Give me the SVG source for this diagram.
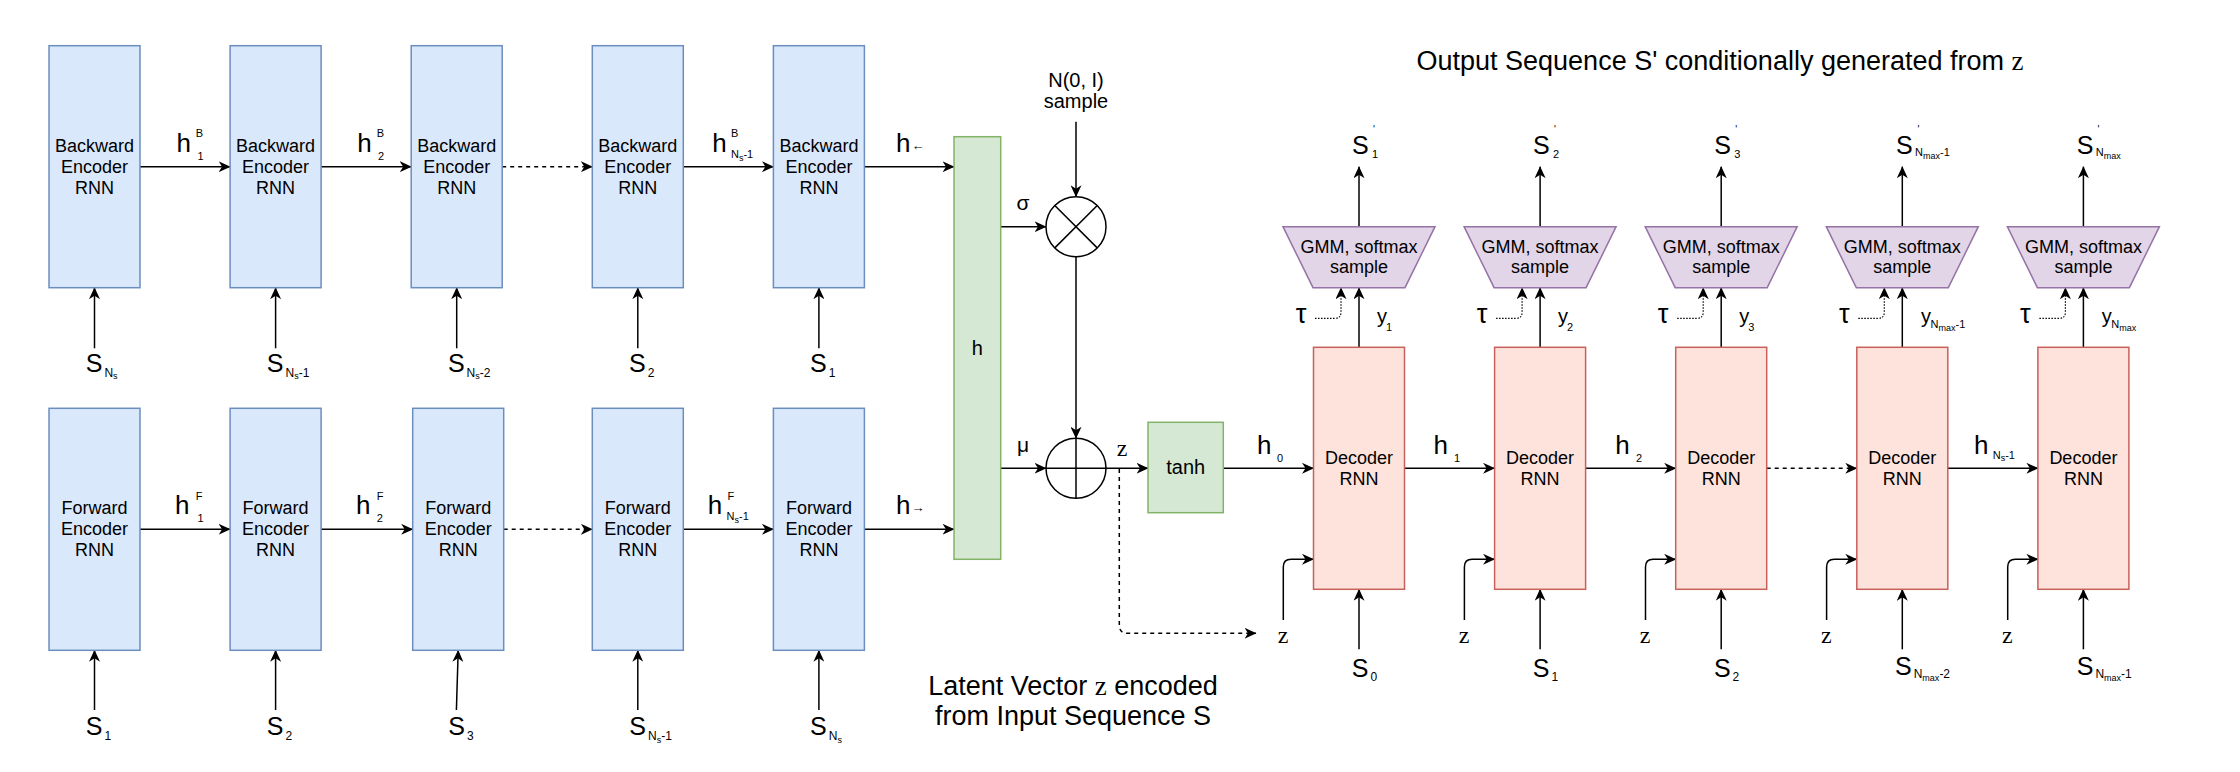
<svg xmlns="http://www.w3.org/2000/svg" width="2240" height="772" viewBox="0 0 2240 772">
  <style>
    text { font-family: "Liberation Sans", Arial, sans-serif; fill: #000; }
    .serif { font-family: "Liberation Serif", "Times New Roman", serif; }
    .enc { fill: #dae8fc; stroke: #6c8ebf; stroke-width: 1.5; }
    .grn { fill: #d5e8d4; stroke: #82b366; stroke-width: 1.5; }
    .dec { fill: #fde3db; stroke: #c8605c; stroke-width: 1.5; }
    .gmm { fill: #e1d5e7; stroke: #9673a6; stroke-width: 1.5; }
    .box { font-size: 18px; text-anchor: middle; }
    .h { font-size: 26px; }
    .sc { font-size: 11px; }
    .s { font-size: 25px; }
    .sb { font-size: 12px; }
    .ss { font-size: 9px; }
    .z { font-size: 24px; text-anchor: middle; }
    .big { font-size: 27px; text-anchor: middle; }
    .tau { font-size: 27px; text-anchor: middle; }
    .ln { fill: none; stroke: #000; stroke-width: 1.5; marker-end: url(#arr); }
    .dash { stroke-dasharray: 4 4; }
    .dot { fill: none; stroke: #000; stroke-width: 1.2; stroke-dasharray: 1.5 1.5; marker-end: url(#arr); }
    .op { fill: #fff; stroke: #000; stroke-width: 1.5; }
    .opl { stroke: #000; stroke-width: 1.5; }
  </style>
  <defs>
    <marker id="arr" viewBox="0 0 12 11" refX="11.5" refY="5.5" markerWidth="12" markerHeight="11" markerUnits="userSpaceOnUse" orient="auto">
      <path d="M0,0 L12,5.5 L0,11 L3.5,5.5 Z" fill="#000"/>
    </marker>
  </defs>

  <!-- Titles -->
  <text class="big" x="1720" y="70">Output Sequence S' conditionally generated from <tspan class="serif">z</tspan></text>
  <text class="big" x="1073" y="695">Latent Vector <tspan class="serif">z</tspan> encoded</text>
  <text class="big" x="1073" y="725">from Input Sequence S</text>

  <!-- Connectors -->
  <g id="connectors">
    <!-- backward encoder chain -->
    <line class="ln" x1="140" y1="166.7" x2="230.1" y2="166.7"/>
    <line class="ln" x1="321.1" y1="166.7" x2="411.2" y2="166.7"/>
    <line class="ln dash" x1="502.2" y1="166.7" x2="592.3" y2="166.7"/>
    <line class="ln" x1="683.3" y1="166.7" x2="773.4" y2="166.7"/>
    <line class="ln" x1="864.4" y1="166.7" x2="954" y2="166.7"/>
    <!-- forward encoder chain -->
    <line class="ln" x1="140" y1="529.3" x2="230.1" y2="529.3"/>
    <line class="ln" x1="321.1" y1="529.3" x2="412.7" y2="529.3"/>
    <line class="ln dash" x1="503.7" y1="529.3" x2="592.3" y2="529.3"/>
    <line class="ln" x1="683.3" y1="529.3" x2="773.4" y2="529.3"/>
    <line class="ln" x1="864.4" y1="529.3" x2="954" y2="529.3"/>
    <!-- encoder inputs -->
    <line class="ln" x1="94.5" y1="348.3" x2="94.5" y2="287.7"/>
    <line class="ln" x1="275.6" y1="348.3" x2="275.6" y2="287.7"/>
    <line class="ln" x1="456.7" y1="348.3" x2="456.7" y2="287.7"/>
    <line class="ln" x1="637.8" y1="348.3" x2="637.8" y2="287.7"/>
    <line class="ln" x1="818.9" y1="348.3" x2="818.9" y2="287.7"/>
    <line class="ln" x1="94.5" y1="710" x2="94.5" y2="650.3"/>
    <line class="ln" x1="275.6" y1="710" x2="275.6" y2="650.3"/>
    <line class="ln" x1="456.4" y1="710" x2="458.2" y2="650.3"/>
    <line class="ln" x1="637.8" y1="710" x2="637.8" y2="650.3"/>
    <line class="ln" x1="818.9" y1="710" x2="818.9" y2="650.3"/>
    <!-- latent sampling -->
    <line class="ln" x1="1000.7" y1="226.7" x2="1046" y2="226.7"/>
    <line class="ln" x1="1000.7" y1="468.3" x2="1046" y2="468.3"/>
    <line class="ln" x1="1076" y1="121.7" x2="1076" y2="196.7"/>
    <line class="ln" x1="1076" y1="256.7" x2="1076" y2="438.3"/>
    <line class="ln" x1="1106" y1="468.3" x2="1148" y2="468.3"/>
    <line class="ln" x1="1223.3" y1="468.3" x2="1313.5" y2="468.3"/>
    <path class="ln dash" stroke-width="1.2" d="M1119.3,469 L1119.3,625 Q1119.3,633.3 1127.6,633.3 L1256,633.3"/>
    <!-- decoder chain -->
    <line class="ln" x1="1404.5" y1="468.3" x2="1494.6" y2="468.3"/>
    <line class="ln" x1="1585.6" y1="468.3" x2="1675.7" y2="468.3"/>
    <line class="ln dash" x1="1766.7" y1="468.3" x2="1856.8" y2="468.3"/>
    <line class="ln" x1="1947.8" y1="468.3" x2="2037.9" y2="468.3"/>
    <!-- decoder step 1 -->
    <line class="ln" x1="1359" y1="649.3" x2="1359" y2="589.3"/>
    <line class="ln" x1="1359" y1="347.3" x2="1359" y2="287.7"/>
    <line class="ln" x1="1359" y1="226.7" x2="1359" y2="166.7"/>
    <path class="dot" d="M1315,318.3 L1335,318.3 Q1341,318.3 1341,312 L1341,287.7"/>
    <path class="ln" d="M1283.3,620 L1283.3,567 Q1283.3,559.3 1291,559.3 L1313.5,559.3"/>
    <!-- decoder step 2 -->
    <line class="ln" x1="1540.1" y1="649.3" x2="1540.1" y2="589.3"/>
    <line class="ln" x1="1540.1" y1="347.3" x2="1540.1" y2="287.7"/>
    <line class="ln" x1="1540.1" y1="226.7" x2="1540.1" y2="166.7"/>
    <path class="dot" d="M1496.1,318.3 L1516.1,318.3 Q1522.1,318.3 1522.1,312 L1522.1,287.7"/>
    <path class="ln" d="M1464.4,620 L1464.4,567 Q1464.4,559.3 1472.1,559.3 L1494.6,559.3"/>
    <!-- decoder step 3 -->
    <line class="ln" x1="1721.2" y1="649.3" x2="1721.2" y2="589.3"/>
    <line class="ln" x1="1721.2" y1="347.3" x2="1721.2" y2="287.7"/>
    <line class="ln" x1="1721.2" y1="226.7" x2="1721.2" y2="166.7"/>
    <path class="dot" d="M1677.2,318.3 L1697.2,318.3 Q1703.2,318.3 1703.2,312 L1703.2,287.7"/>
    <path class="ln" d="M1645.5,620 L1645.5,567 Q1645.5,559.3 1653.2,559.3 L1675.7,559.3"/>
    <!-- decoder step N-1 -->
    <line class="ln" x1="1902.3" y1="649.3" x2="1902.3" y2="589.3"/>
    <line class="ln" x1="1902.3" y1="347.3" x2="1902.3" y2="287.7"/>
    <line class="ln" x1="1902.3" y1="226.7" x2="1902.3" y2="166.7"/>
    <path class="dot" d="M1858.3,318.3 L1878.3,318.3 Q1884.3,318.3 1884.3,312 L1884.3,287.7"/>
    <path class="ln" d="M1826.6,620 L1826.6,567 Q1826.6,559.3 1834.3,559.3 L1856.8,559.3"/>
    <!-- decoder step N -->
    <line class="ln" x1="2083.4" y1="649.3" x2="2083.4" y2="589.3"/>
    <line class="ln" x1="2083.4" y1="347.3" x2="2083.4" y2="287.7"/>
    <line class="ln" x1="2083.4" y1="226.7" x2="2083.4" y2="166.7"/>
    <path class="dot" d="M2039.4,318.3 L2059.4,318.3 Q2065.4,318.3 2065.4,312 L2065.4,287.7"/>
    <path class="ln" d="M2007.7,620 L2007.7,567 Q2007.7,559.3 2015.4,559.3 L2037.9,559.3"/>
  </g>

  <!-- Backward encoder -->
  <g id="bwd1"><rect class="enc" x="49" y="45.7" width="91" height="242"/><text class="box" x="94.5" y="151.5">Backward</text><text class="box" x="94.5" y="172.8">Encoder</text><text class="box" x="94.5" y="193.8">RNN</text></g>
  <g id="bwd2"><rect class="enc" x="230.1" y="45.7" width="91" height="242"/><text class="box" x="275.6" y="151.5">Backward</text><text class="box" x="275.6" y="172.8">Encoder</text><text class="box" x="275.6" y="193.8">RNN</text></g>
  <g id="bwd3"><rect class="enc" x="411.2" y="45.7" width="91" height="242"/><text class="box" x="456.7" y="151.5">Backward</text><text class="box" x="456.7" y="172.8">Encoder</text><text class="box" x="456.7" y="193.8">RNN</text></g>
  <g id="bwd4"><rect class="enc" x="592.3" y="45.7" width="91" height="242"/><text class="box" x="637.8" y="151.5">Backward</text><text class="box" x="637.8" y="172.8">Encoder</text><text class="box" x="637.8" y="193.8">RNN</text></g>
  <g id="bwd5"><rect class="enc" x="773.4" y="45.7" width="91" height="242"/><text class="box" x="818.9" y="151.5">Backward</text><text class="box" x="818.9" y="172.8">Encoder</text><text class="box" x="818.9" y="193.8">RNN</text></g>

  <!-- Forward encoder -->
  <g id="fwd1"><rect class="enc" x="49" y="408.3" width="91" height="242"/><text class="box" x="94.5" y="514">Forward</text><text class="box" x="94.5" y="535.3">Encoder</text><text class="box" x="94.5" y="556.3">RNN</text></g>
  <g id="fwd2"><rect class="enc" x="230.1" y="408.3" width="91" height="242"/><text class="box" x="275.6" y="514">Forward</text><text class="box" x="275.6" y="535.3">Encoder</text><text class="box" x="275.6" y="556.3">RNN</text></g>
  <g id="fwd3"><rect class="enc" x="412.7" y="408.3" width="91" height="242"/><text class="box" x="458.2" y="514">Forward</text><text class="box" x="458.2" y="535.3">Encoder</text><text class="box" x="458.2" y="556.3">RNN</text></g>
  <g id="fwd4"><rect class="enc" x="592.3" y="408.3" width="91" height="242"/><text class="box" x="637.8" y="514">Forward</text><text class="box" x="637.8" y="535.3">Encoder</text><text class="box" x="637.8" y="556.3">RNN</text></g>
  <g id="fwd5"><rect class="enc" x="773.4" y="408.3" width="91" height="242"/><text class="box" x="818.9" y="514">Forward</text><text class="box" x="818.9" y="535.3">Encoder</text><text class="box" x="818.9" y="556.3">RNN</text></g>

  <!-- Encoder hidden state labels -->
  <g id="enc-labels">
    <text class="h" x="176.5" y="151.7">h</text><text class="sc" x="195.7" y="137.3">B</text><text class="sc" x="197.5" y="160">1</text>
    <text class="h" x="357.2" y="151.7">h</text><text class="sc" x="376.8" y="137.3">B</text><text class="sc" x="377.9" y="160">2</text>
    <text class="h" x="712.2" y="151.7">h</text><text class="sc" x="731.1" y="137.3">B</text><text class="sc" x="731" y="158">N<tspan class="ss" dy="2.5">s</tspan><tspan dy="-2.5">-1</tspan></text>
    <text class="h" x="896" y="151.7">h<tspan font-size="13" dx="1" dy="-2">←</tspan></text>
    <text class="h" x="175" y="514">h</text><text class="sc" x="195.7" y="500">F</text><text class="sc" x="197.5" y="521.7">1</text>
    <text class="h" x="356.1" y="514">h</text><text class="sc" x="376.8" y="500">F</text><text class="sc" x="376.8" y="521.7">2</text>
    <text class="h" x="707.8" y="514">h</text><text class="sc" x="727.5" y="500">F</text><text class="sc" x="726.6" y="520">N<tspan class="ss" dy="2.5">s</tspan><tspan dy="-2.5">-1</tspan></text>
    <text class="h" x="896" y="514">h<tspan font-size="13" dx="1" dy="-2">→</tspan></text>
  </g>

  <!-- Encoder input labels -->
  <g id="enc-inputs">
    <text class="s" x="85.7" y="371.5">S<tspan class="sb" dx="2" dy="5">N</tspan><tspan class="ss" dy="2.5">s</tspan></text>
    <text class="s" x="266.8" y="371.5">S<tspan class="sb" dx="2" dy="5">N</tspan><tspan class="ss" dy="2.5">s</tspan><tspan class="sb" dy="-2.5">-1</tspan></text>
    <text class="s" x="447.9" y="371.5">S<tspan class="sb" dx="2" dy="5">N</tspan><tspan class="ss" dy="2.5">s</tspan><tspan class="sb" dy="-2.5">-2</tspan></text>
    <text class="s" x="629" y="371.5">S<tspan class="sb" dx="2" dy="5">2</tspan></text>
    <text class="s" x="810.1" y="371.5">S<tspan class="sb" dx="2" dy="5">1</tspan></text>
    <text class="s" x="85.7" y="735">S<tspan class="sb" dx="2" dy="5">1</tspan></text>
    <text class="s" x="266.8" y="735">S<tspan class="sb" dx="2" dy="5">2</tspan></text>
    <text class="s" x="448.2" y="735">S<tspan class="sb" dx="2" dy="5">3</tspan></text>
    <text class="s" x="629.3" y="735">S<tspan class="sb" dx="2" dy="5">N</tspan><tspan class="ss" dy="2.5">s</tspan><tspan class="sb" dy="-2.5">-1</tspan></text>
    <text class="s" x="810.1" y="735">S<tspan class="sb" dx="2" dy="5">N</tspan><tspan class="ss" dy="2.5">s</tspan></text>
  </g>

  <!-- Concatenated hidden state -->
  <g id="hcat"><rect class="grn" x="954" y="136.7" width="46.7" height="422.6"/><text x="977.3" y="355" font-size="20" text-anchor="middle">h</text></g>

  <!-- Sampling: z = mu + sigma * N(0, I) -->
  <g id="noise"><text x="1076" y="86.7" font-size="20" text-anchor="middle">N(0, I)</text><text x="1076" y="107.5" font-size="20" text-anchor="middle">sample</text></g>
  <g id="mul"><circle class="op" cx="1076" cy="226.7" r="30"/><line class="opl" x1="1054.8" y1="205.5" x2="1097.2" y2="247.9"/><line class="opl" x1="1097.2" y1="205.5" x2="1054.8" y2="247.9"/></g>
  <g id="add"><circle class="op" cx="1076" cy="468.3" r="30"/><line class="opl" x1="1046" y1="468.3" x2="1106" y2="468.3"/><line class="opl" x1="1076" y1="438.3" x2="1076" y2="498.3"/></g>
  <text x="1023" y="210" font-size="21" text-anchor="middle">σ</text>
  <text x="1023" y="452" font-size="21" text-anchor="middle">μ</text>
  <text class="z serif" x="1122" y="456">z</text>
  <g id="tanh"><rect class="grn" x="1148" y="422.3" width="75.3" height="90.4"/><text x="1185.7" y="474" font-size="20" text-anchor="middle">tanh</text></g>

  <!-- Decoder -->
  <g id="dec1"><rect class="dec" x="1313.5" y="347.3" width="91" height="242"/><text class="box" x="1359" y="464.3">Decoder</text><text class="box" x="1359" y="484.8">RNN</text></g>
  <g id="dec2"><rect class="dec" x="1494.6" y="347.3" width="91" height="242"/><text class="box" x="1540.1" y="464.3">Decoder</text><text class="box" x="1540.1" y="484.8">RNN</text></g>
  <g id="dec3"><rect class="dec" x="1675.7" y="347.3" width="91" height="242"/><text class="box" x="1721.2" y="464.3">Decoder</text><text class="box" x="1721.2" y="484.8">RNN</text></g>
  <g id="dec4"><rect class="dec" x="1856.8" y="347.3" width="91" height="242"/><text class="box" x="1902.3" y="464.3">Decoder</text><text class="box" x="1902.3" y="484.8">RNN</text></g>
  <g id="dec5"><rect class="dec" x="2037.9" y="347.3" width="91" height="242"/><text class="box" x="2083.4" y="464.3">Decoder</text><text class="box" x="2083.4" y="484.8">RNN</text></g>

  <!-- Output heads -->
  <g id="gmm1"><polygon class="gmm" points="1283,226.7 1435,226.7 1405,287.7 1313,287.7"/><text class="box" x="1359" y="253.3">GMM, softmax</text><text class="box" x="1359" y="273">sample</text></g>
  <g id="gmm2"><polygon class="gmm" points="1464.1,226.7 1616.1,226.7 1586.1,287.7 1494.1,287.7"/><text class="box" x="1540.1" y="253.3">GMM, softmax</text><text class="box" x="1540.1" y="273">sample</text></g>
  <g id="gmm3"><polygon class="gmm" points="1645.2,226.7 1797.2,226.7 1767.2,287.7 1675.2,287.7"/><text class="box" x="1721.2" y="253.3">GMM, softmax</text><text class="box" x="1721.2" y="273">sample</text></g>
  <g id="gmm4"><polygon class="gmm" points="1826.3,226.7 1978.3,226.7 1948.3,287.7 1856.3,287.7"/><text class="box" x="1902.3" y="253.3">GMM, softmax</text><text class="box" x="1902.3" y="273">sample</text></g>
  <g id="gmm5"><polygon class="gmm" points="2007.4,226.7 2159.4,226.7 2129.4,287.7 2037.4,287.7"/><text class="box" x="2083.4" y="253.3">GMM, softmax</text><text class="box" x="2083.4" y="273">sample</text></g>

  <!-- Decoder labels -->
  <g id="dec-labels">
    <text class="h" x="1257" y="454.3">h</text><text class="sc" x="1277" y="461.5">0</text>
    <text class="h" x="1433.5" y="454.3">h</text><text class="sc" x="1454" y="461.5">1</text>
    <text class="h" x="1615.3" y="454.3">h</text><text class="sc" x="1636" y="461.5">2</text>
    <text class="h" x="1974" y="454.3">h</text><text class="sc" x="1992.7" y="458.5">N<tspan class="ss" dy="2.5">s</tspan><tspan dy="-2.5">-1</tspan></text>

    <text class="s" x="1352" y="154.3">S</text><text x="1373" y="133" font-size="10">'</text><text class="sc" x="1372" y="158">1</text>
    <text class="s" x="1533.1" y="154.3">S</text><text x="1554.1" y="133" font-size="10">'</text><text class="sc" x="1553.1" y="158">2</text>
    <text class="s" x="1714.2" y="154.3">S</text><text x="1735.2" y="133" font-size="10">'</text><text class="sc" x="1734.2" y="158">3</text>
    <text class="s" x="1896" y="154.3">S</text><text x="1917.5" y="133" font-size="10">'</text><text class="sc" x="1915" y="156">N<tspan class="ss" dy="3">max</tspan><tspan dy="-3">-1</tspan></text>
    <text class="s" x="2076.7" y="154.3">S</text><text x="2097.5" y="133" font-size="10">'</text><text class="sc" x="2095.7" y="156">N<tspan class="ss" dy="3">max</tspan></text>

    <text x="1377" y="322.5" font-size="20">y<tspan class="sc" dx="-1" dy="8">1</tspan></text>
    <text x="1558.1" y="322.5" font-size="20">y<tspan class="sc" dx="-1" dy="8">2</tspan></text>
    <text x="1739.2" y="322.5" font-size="20">y<tspan class="sc" dx="-1" dy="8">3</tspan></text>
    <text x="1921" y="322.5" font-size="20">y<tspan class="sc" dx="-0.5" dy="5">N</tspan><tspan class="ss" dy="3">max</tspan><tspan class="sc" dy="-3">-1</tspan></text>
    <text x="2101.7" y="322.5" font-size="20">y<tspan class="sc" dx="-0.5" dy="5">N</tspan><tspan class="ss" dy="3">max</tspan></text>

    <text class="tau" x="1301" y="323">τ</text>
    <text class="tau" x="1482.1" y="323">τ</text>
    <text class="tau" x="1663.2" y="323">τ</text>
    <text class="tau" x="1844.3" y="323">τ</text>
    <text class="tau" x="2025.4" y="323">τ</text>

    <text class="z serif" x="1283" y="642.7">z</text>
    <text class="z serif" x="1464.1" y="642.7">z</text>
    <text class="z serif" x="1645.2" y="642.7">z</text>
    <text class="z serif" x="1826.3" y="642.7">z</text>
    <text class="z serif" x="2007.4" y="642.7">z</text>

    <text class="s" x="1351.7" y="676.7">S<tspan class="sb" dx="2" dy="4">0</tspan></text>
    <text class="s" x="1532.8" y="676.7">S<tspan class="sb" dx="2" dy="4">1</tspan></text>
    <text class="s" x="1713.9" y="676.7">S<tspan class="sb" dx="2" dy="4">2</tspan></text>
    <text class="s" x="1895" y="675">S<tspan class="sb" dx="2" dy="3.3">N</tspan><tspan class="ss" dy="3">max</tspan><tspan class="sb" dy="-3">-2</tspan></text>
    <text class="s" x="2076.7" y="675">S<tspan class="sb" dx="2" dy="3.3">N</tspan><tspan class="ss" dy="3">max</tspan><tspan class="sb" dy="-3">-1</tspan></text>
  </g>
</svg>
